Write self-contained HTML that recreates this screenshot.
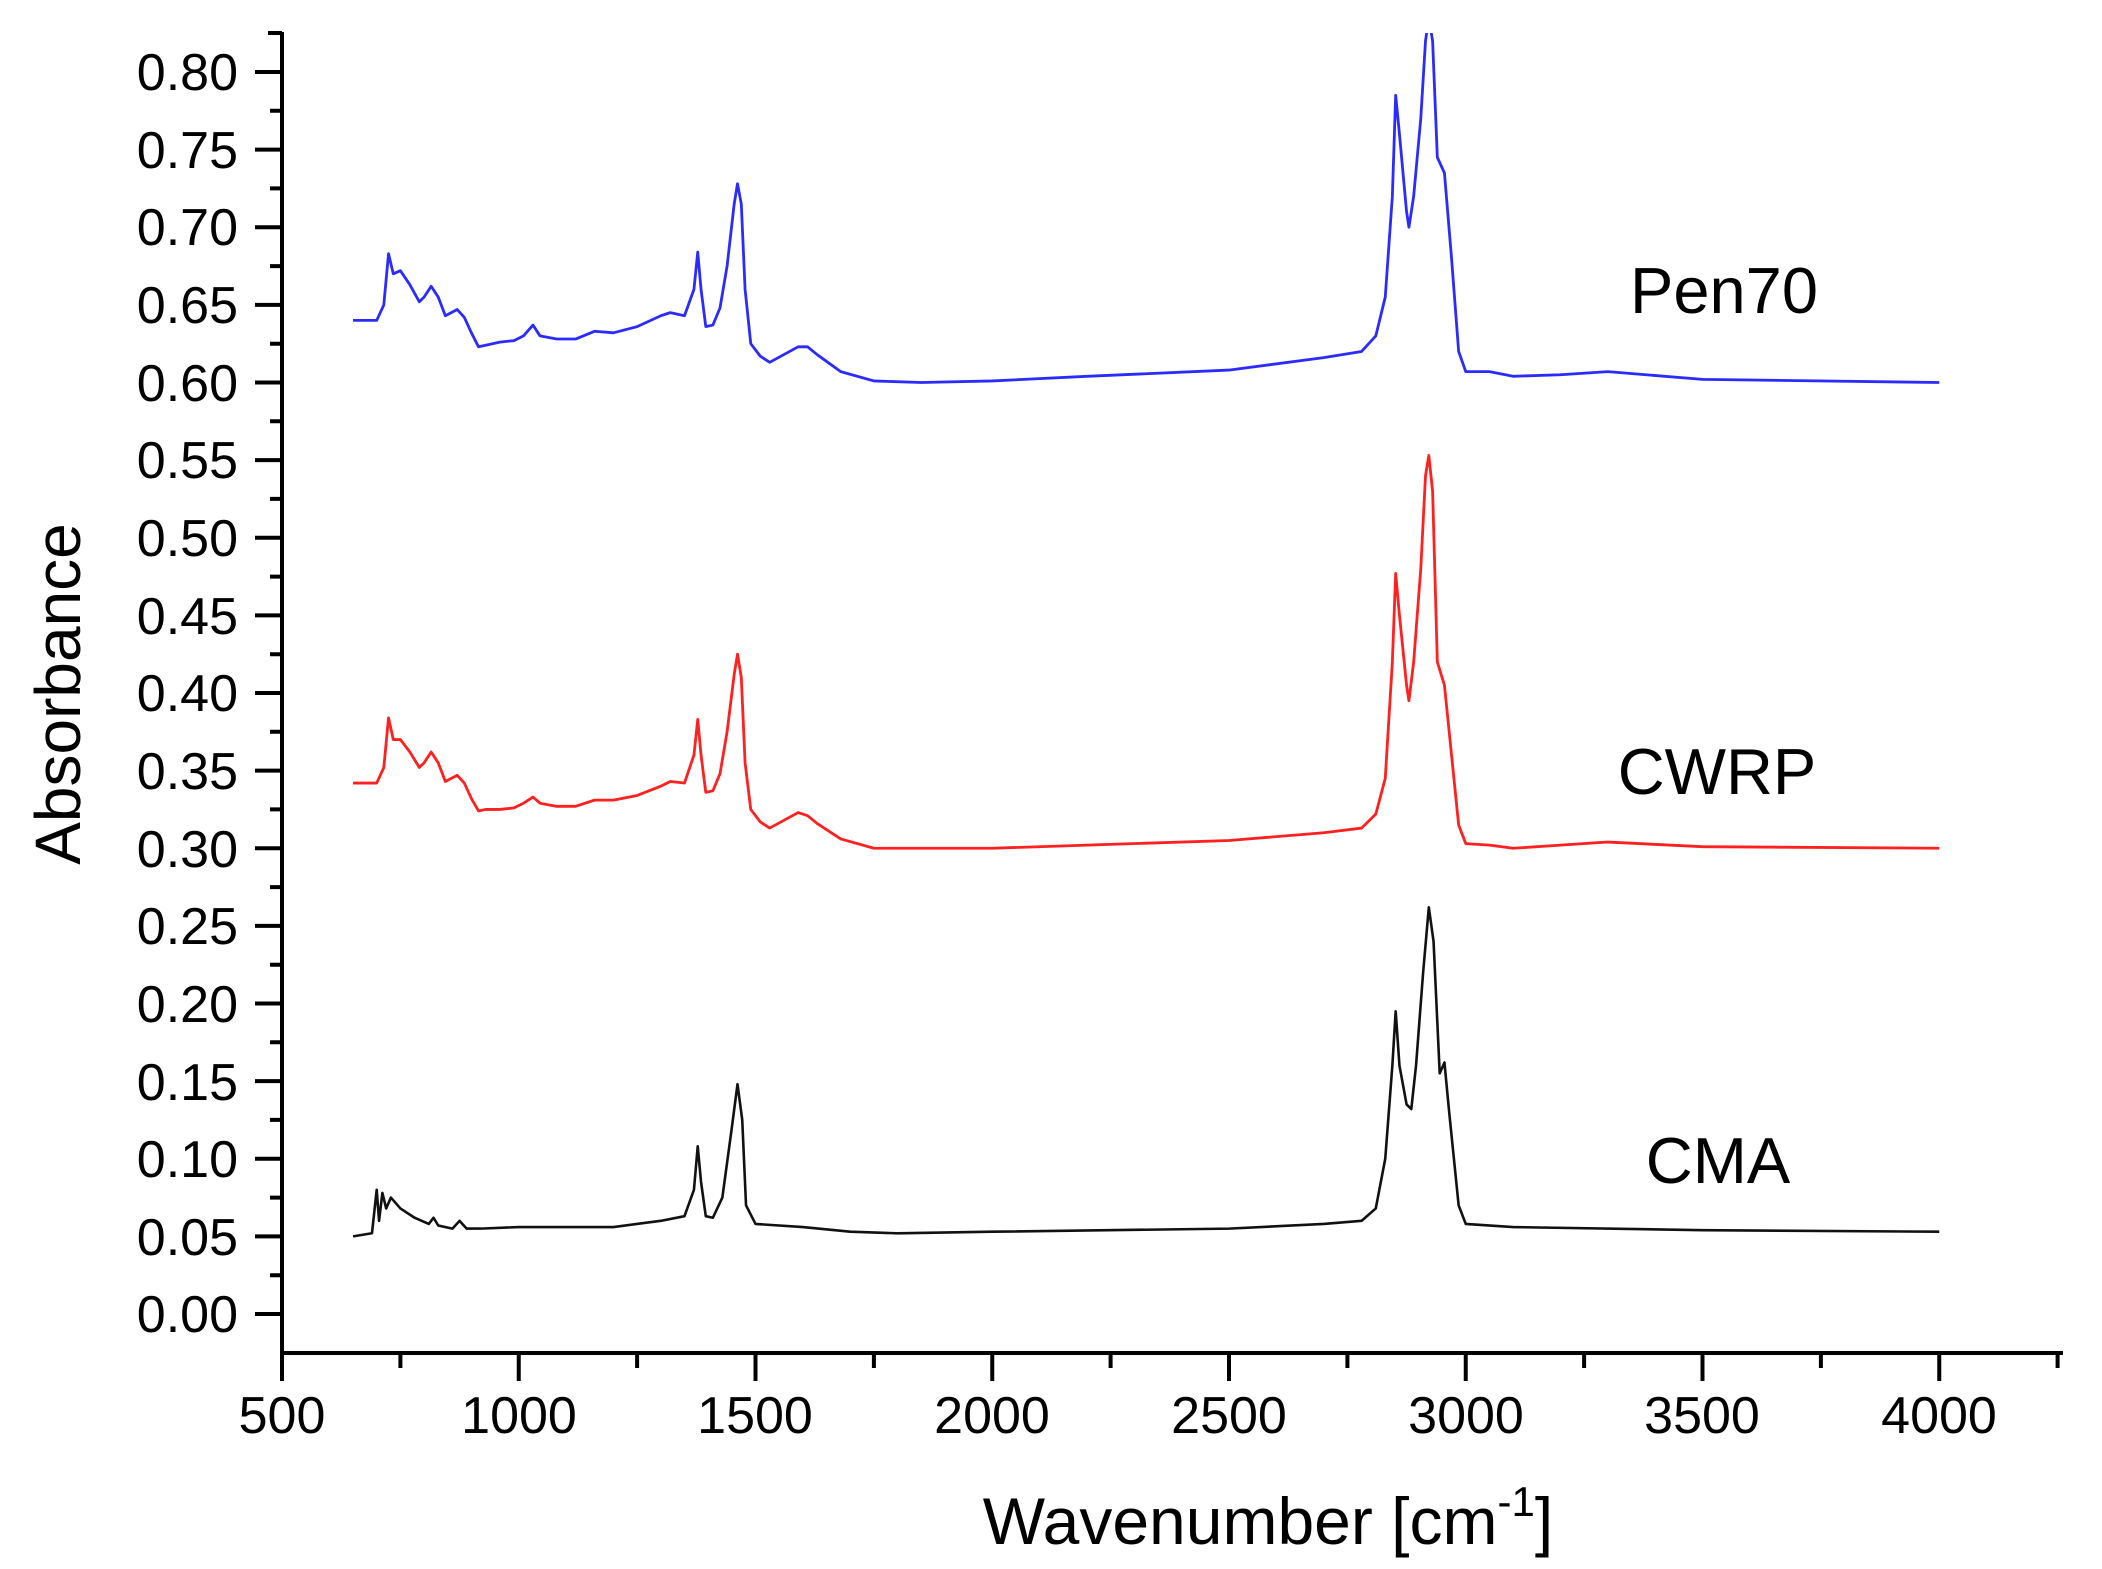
<!DOCTYPE html>
<html><head><style>
body{margin:0;background:#fff;}
svg{display:block;}
text{font-family:"Liberation Sans",Arial,sans-serif;fill:#000;}
</style></head><body>
<svg width="2102" height="1569" viewBox="0 0 2102 1569" xmlns="http://www.w3.org/2000/svg">
<defs><clipPath id="c"><rect x="282" y="33" width="1800" height="1320"/></clipPath></defs>
<g clip-path="url(#c)" fill="none" stroke-linejoin="round">
<g transform="translate(45.25,1314) scale(0.4735,-1552.5)">
<polyline vector-effect="non-scaling-stroke" stroke="#2b2bff" stroke-width="2.8" points="650,0.64 700,0.64 715,0.65 725,0.683 735,0.67 750,0.672 770,0.663 790,0.652 800,0.655 815,0.662 830,0.655 845,0.643 870,0.647 885,0.642 900,0.632 915,0.623 930,0.624 960,0.626 990,0.627 1010,0.63 1030,0.637 1045,0.63 1080,0.628 1120,0.628 1160,0.633 1200,0.632 1250,0.636 1300,0.643 1320,0.645 1350,0.643 1370,0.66 1378,0.684 1385,0.66 1395,0.636 1410,0.637 1425,0.648 1440,0.675 1455,0.715 1462,0.728 1470,0.715 1478,0.66 1490,0.625 1510,0.617 1530,0.613 1560,0.618 1590,0.623 1610,0.623 1630,0.618 1680,0.607 1750,0.601 1850,0.6 2000,0.601 2200,0.604 2500,0.608 2700,0.616 2780,0.62 2810,0.63 2830,0.655 2845,0.72 2852,0.785 2860,0.76 2875,0.71 2880,0.7 2890,0.72 2905,0.77 2915,0.82 2922,0.835 2930,0.82 2940,0.745 2955,0.735 2970,0.68 2985,0.62 3000,0.607 3050,0.607 3100,0.604 3200,0.605 3300,0.607 3500,0.602 4000,0.6"/>
<polyline vector-effect="non-scaling-stroke" stroke="#ff2020" stroke-width="2.8" points="650,0.342 700,0.342 715,0.352 725,0.384 735,0.37 750,0.37 770,0.362 790,0.352 800,0.355 815,0.362 830,0.355 845,0.343 870,0.347 885,0.342 900,0.332 915,0.324 930,0.325 960,0.325 990,0.326 1010,0.329 1030,0.333 1045,0.329 1080,0.327 1120,0.327 1160,0.331 1200,0.331 1250,0.334 1300,0.34 1320,0.343 1350,0.342 1370,0.36 1378,0.383 1385,0.36 1395,0.336 1410,0.337 1425,0.348 1440,0.375 1455,0.412 1462,0.425 1470,0.41 1478,0.355 1490,0.325 1510,0.317 1530,0.313 1560,0.318 1590,0.323 1610,0.321 1630,0.316 1680,0.306 1750,0.3 1850,0.3 2000,0.3 2200,0.302 2500,0.305 2700,0.31 2780,0.313 2810,0.322 2830,0.345 2845,0.42 2852,0.477 2860,0.45 2875,0.405 2880,0.395 2890,0.42 2905,0.48 2915,0.54 2922,0.553 2930,0.53 2940,0.42 2955,0.405 2970,0.36 2985,0.315 3000,0.303 3050,0.302 3100,0.3 3200,0.302 3300,0.304 3500,0.301 4000,0.3"/>
<polyline vector-effect="non-scaling-stroke" stroke="#111" stroke-width="2.6" points="650,0.05 690,0.052 700,0.08 705,0.06 712,0.078 720,0.068 730,0.075 750,0.068 780,0.062 810,0.058 820,0.062 830,0.057 860,0.055 875,0.06 890,0.055 920,0.055 1000,0.056 1200,0.056 1300,0.06 1350,0.063 1370,0.08 1378,0.108 1385,0.085 1395,0.063 1410,0.062 1430,0.075 1450,0.12 1462,0.148 1472,0.125 1480,0.07 1500,0.058 1600,0.056 1700,0.053 1800,0.052 2000,0.053 2500,0.055 2700,0.058 2780,0.06 2810,0.068 2830,0.1 2845,0.16 2852,0.195 2860,0.16 2875,0.135 2885,0.132 2895,0.16 2910,0.22 2922,0.262 2932,0.24 2945,0.155 2955,0.162 2965,0.13 2985,0.07 3000,0.058 3100,0.056 3500,0.054 4000,0.053"/>
</g></g>
<g stroke="#000" stroke-width="4" fill="none">
<path d="M282,32 V1353 H2063"/>
<path d="M268,33 H282"/>
<path d="M255,72H282 M255,149.6H282 M255,227.3H282 M255,304.9H282 M255,382.5H282 M255,460.1H282 M255,537.8H282 M255,615.4H282 M255,693H282 M255,770.6H282 M255,848.3H282 M255,925.9H282 M255,1003.5H282 M255,1081.1H282 M255,1158.8H282 M255,1236.4H282 M255,1314H282"/>
<path d="M270,110.8H282 M270,188.4H282 M270,266.1H282 M270,343.7H282 M270,421.3H282 M270,498.9H282 M270,576.6H282 M270,654.2H282 M270,731.8H282 M270,809.4H282 M270,887.1H282 M270,964.7H282 M270,1042.3H282 M270,1119.9H282 M270,1197.6H282 M270,1275.2H282"/>
<path d="M282,1353V1381 M518.75,1353V1381 M755.5,1353V1381 M992.25,1353V1381 M1229,1353V1381 M1465.75,1353V1381 M1702.5,1353V1381 M1939.25,1353V1381"/>
<path d="M400.4,1353V1368 M637.1,1353V1368 M873.9,1353V1368 M1110.6,1353V1368 M1347.4,1353V1368 M1584.1,1353V1368 M1820.9,1353V1368 M2057.6,1353V1368"/>
</g>
<g font-size="52" text-anchor="end">
<text x="238" y="90">0.80</text><text x="238" y="168">0.75</text><text x="238" y="245">0.70</text><text x="238" y="323">0.65</text><text x="238" y="401">0.60</text><text x="238" y="478">0.55</text><text x="238" y="556">0.50</text><text x="238" y="634">0.45</text><text x="238" y="711">0.40</text><text x="238" y="789">0.35</text><text x="238" y="867">0.30</text><text x="238" y="944">0.25</text><text x="238" y="1022">0.20</text><text x="238" y="1100">0.15</text><text x="238" y="1177">0.10</text><text x="238" y="1255">0.05</text><text x="238" y="1332">0.00</text>
</g>
<g font-size="52" text-anchor="middle">
<text x="282" y="1433">500</text><text x="519" y="1433">1000</text><text x="755" y="1433">1500</text><text x="992" y="1433">2000</text><text x="1229" y="1433">2500</text><text x="1466" y="1433">3000</text><text x="1702" y="1433">3500</text><text x="1939" y="1433">4000</text>
</g>
<text x="1268" y="1544" font-size="66" text-anchor="middle">Wavenumber [cm<tspan font-size="42" dy="-28">-1</tspan><tspan dy="28">]</tspan></text>
<text transform="translate(80,694) rotate(-90)" font-size="64" text-anchor="middle">Absorbance</text>
<text x="1724" y="313" font-size="65" text-anchor="middle">Pen70</text>
<text x="1717" y="794" font-size="65" text-anchor="middle">CWRP</text>
<text x="1718" y="1183" font-size="65" text-anchor="middle">CMA</text>
</svg>
</body></html>
